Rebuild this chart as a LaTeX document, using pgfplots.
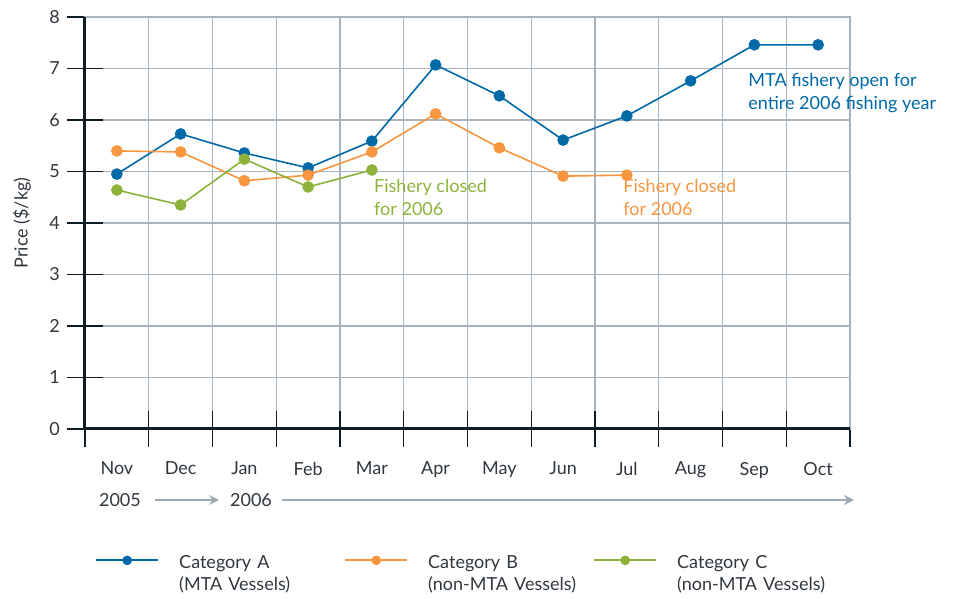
\documentclass[border=0pt]{standalone}
\usepackage{fontspec}
\setmainfont{Lato}
\usepackage{pgfplots}
\pgfplotsset{compat=1.18}

\definecolor{catA}{HTML}{0069A8}
\definecolor{catB}{HTML}{F7963F}
\definecolor{catC}{HTML}{8CB23A}
\definecolor{gridc}{HTML}{A9B4BE}
\definecolor{axisc}{HTML}{0E1C26}
\definecolor{txt}{HTML}{30373E}
\definecolor{arr}{HTML}{9DA9B2}

\begin{document}
\begin{tikzpicture}
% 1 px of the reference = 0.5pt
\begin{axis}[
  scale only axis,
  width=382.5pt, height=206pt,
  xmin=-0.5, xmax=11.5, ymin=0, ymax=8,
  clip=false,
  font=\fontsize{9}{11}\selectfont,
  /pgf/number format/assume math mode=true,
  xtick={0,...,11},
  xticklabels={Nov,Dec,Jan,Feb,Mar,Apr,May,Jun,Jul,Aug,Sep,Oct},
  minor xtick={-0.5,0.5,...,11.5},
  ytick={0,...,8},
  xtick pos=bottom, ytick pos=left,
  xminorgrids=true, ymajorgrids=true,
  grid style={gridc, line width=0.6pt},
  minor grid style={gridc, line width=0.6pt},
  axis line style={gridc, line width=0.8pt},
  tick align=center,
  major tick length=18pt, minor tick length=18pt,
  major x tick style={draw=none},
  tick style={axisc, line width=0.6pt},
  xticklabel style={txt, yshift=-4pt},
  yticklabel style={txt},
  every axis y label/.style={at={(rel axis cs:0,0.5)}, xshift=-31.5pt, rotate=90, anchor=center, txt},
  ylabel={Price (\$/kg)},
  every axis plot/.append style={line width=0.8pt, mark=*, mark size=2.5pt},
  legend columns=3,
  legend style={at={(rel axis cs:0.005,-0.282)}, anchor=north west, draw=none, fill=none,
    font=\fontsize{9}{11}\selectfont, text=txt,
    /tikz/every odd column/.append style={column sep=8pt},
    /tikz/every even column/.append style={column sep=3pt},
    nodes={text width=77.5pt, align=left}},
  legend image code/.code={%
    \draw[#1, mark=none, line width=1pt] (0pt,1.2pt) -- (31pt,1.2pt);
    \draw[#1, draw=none, mark repeat=2, mark phase=2, mark size=2pt]
      plot coordinates {(0pt,1.2pt) (15.5pt,1.2pt) (31pt,1.2pt)};},
]
\draw[axisc, line width=1.5pt] (rel axis cs:0,1) -- (rel axis cs:0,0) -- (rel axis cs:1,0);

\addplot[color=catA, mark options={fill=catA}] coordinates {
  (0,4.95) (1,5.73) (2,5.36) (3,5.07) (4,5.59) (5,7.07)
  (6,6.47) (7,5.61) (8,6.08) (9,6.76) (10,7.46) (11,7.46)};
\addlegendentry{\begin{tabular}[t]{@{}l@{}}Category A\\(MTA Vessels)\end{tabular}}
\addplot[color=catB, mark options={fill=catB}] coordinates {
  (0,5.40) (1,5.38) (2,4.82) (3,4.93) (4,5.38) (5,6.12)
  (6,5.46) (7,4.91) (8,4.93)};
\addlegendentry{\begin{tabular}[t]{@{}l@{}}Category B\\(non-MTA Vessels)\end{tabular}}
\addplot[color=catC, mark options={fill=catC}] coordinates {
  (0,4.64) (1,4.35) (2,5.24) (3,4.70) (4,5.03)};
\addlegendentry{\begin{tabular}[t]{@{}l@{}}Category C\\(non-MTA Vessels)\end{tabular}}

\node[catC, align=left, anchor=west, inner sep=0pt, font=\fontsize{9}{11.5}\selectfont] at (axis cs:4.03,4.49) {Fishery closed\\for 2006};
\node[catB, align=left, anchor=west, inner sep=0pt, font=\fontsize{9}{11.5}\selectfont] at (axis cs:7.94,4.49) {Fishery closed\\for 2006};
\node[catA, align=left, anchor=west, inner sep=0pt, font=\fontsize{9}{11.5}\selectfont] at (axis cs:9.9,6.52) {MTA fishery open for\\entire 2006 fishing year};
\end{axis}

% year row, reference pixel coordinates
\begin{scope}[x=0.5pt, y=-0.5pt, shift={(-42.5pt,214.5pt)}]
  \node[txt, font=\fontsize{9}{11}\selectfont] at (120,500) {2005};
  \node[txt, font=\fontsize{9}{11}\selectfont] at (251,500) {2006};
  \draw[arr, line width=1.2pt, -stealth] (155,500) -- (219,500);
  \draw[arr, line width=1.2pt, -stealth] (282,500) -- (854,500);
  \path (0,0) rectangle (954,599);
\end{scope}
\end{tikzpicture}
\end{document}
